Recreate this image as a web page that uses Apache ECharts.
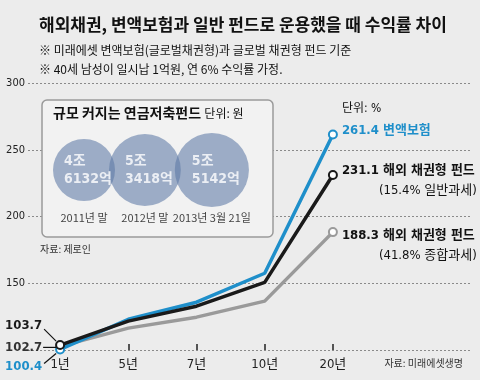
<!DOCTYPE html>
<html><head><meta charset="utf-8">
<script src="https://cdn.jsdelivr.net/npm/echarts@6/dist/echarts.min.js"></script>
<style>html,body{margin:0;padding:0;background:#ececec}#c{width:480px;height:380px}</style>
</head><body><div id="c"></div>
<script>
// ---- data ----
const categories = ['1년', '5년', '7년', '10년', '20년'];
const variableInsurance = [100.4, 123.0, 135.8, 157.5, 261.4];   // 변액보험
const bondGeneralTax = [103.7, 121.6, 132.8, 150.7, 231.1];      // 해외 채권형 펀드 (15.4% 일반과세)
const bondComprehensiveTax = [102.7, 116.4, 124.6, 136.6, 188.3]; // 해외 채권형 펀드 (41.8% 종합과세)
const yMin = 100, yMax = 300, yStep = 50;
const pensionDates = ['2011년 말', '2012년 말', '2013년 3월 21일'];
const pensionValues = [46132, 53418, 55142]; // 억원

const KR = "'Noto Sans CJK KR', sans-serif";
const NUM = "'Liberation Sans Narrow','DejaVu Sans Condensed','Noto Sans CJK KR',sans-serif";
const BLUE = '#1f8fca', BLACK = '#1a1a1a', GRAY = '#9a9a9a';

function seriesData(vals) {
  return vals.map((v, i) => (i === 0 || i === vals.length - 1)
    ? { value: v, symbol: 'emptyCircle' }
    : { value: v, symbol: 'none' });
}
function endLabel(vals, cfg) {
  const d = seriesData(vals);
  d[d.length - 1].label = Object.assign({ show: true, position: 'right', distance: 4 }, cfg);
  return d;
}
const last = a => a[a.length - 1];

// bubble layout for the inset: diameter proportional to value, bubbles packed side by side
const PX_PER_UNIT = 1 / 744;
const diam = pensionValues.map(v => v * PX_PER_UNIT);
const centers = [];
diam.forEach((d, i) => {
  centers.push(i === 0 ? 53 + d / 2 : centers[i - 1] + diam[i - 1] / 2 + d / 2 - 6);
});
const BUBBLE_Y = 70, DATE_Y = 118; // offsets inside the inset box

const chart = echarts.init(document.getElementById('c'), null, { renderer: 'canvas' });
const lineCommon = {
  type: 'line', xAxisIndex: 1, yAxisIndex: 1, symbolSize: 8,
  lineStyle: { width: 3.5 }, itemStyle: { borderWidth: 2 }, label: { show: false },
  emphasis: { disabled: true }, animation: false
};

chart.setOption({
  backgroundColor: '#ececec',
  animation: false,
  title: [
    { text: '해외채권, 변액보험과 일반 펀드로 운용했을 때 수익률 차이', left: 34, top: 11,
      textStyle: { fontFamily: KR, fontSize: 17, fontWeight: 'bold', color: '#111' } },
    { text: '※ 미래에셋 변액보험(글로벌채권형)과 글로벌 채권형 펀드 기준', left: 34, top: 39,
      textStyle: { fontFamily: KR, fontSize: 12, fontWeight: 'normal', color: '#111' } },
    { text: '※ 40세 남성이 일시납 1억원, 연 6% 수익률 가정.', left: 34, top: 58,
      textStyle: { fontFamily: KR, fontSize: 12, fontWeight: 'normal', color: '#111' } },
    { text: '자료: 미래에셋생명', right: 12, top: 353,
      textStyle: { fontFamily: KR, fontSize: 10, fontWeight: 'normal', color: '#333' } }
  ],
  grid: [
    { left: 28, right: 10, top: 83, bottom: 30 },
    { left: 26, width: 341, top: 83, bottom: 30 },
    { left: 0, width: 480, top: 100, height: 137 }
  ],
  xAxis: [
    { gridIndex: 0, type: 'value', show: false, min: 0, max: 1 },
    { gridIndex: 1, type: 'category', data: categories, boundaryGap: true,
      axisLine: { show: false },
      axisTick: { show: true, inside: true, length: 6, alignWithLabel: true, lineStyle: { color: '#222', width: 1.5 } },
      axisLabel: { fontFamily: NUM, fontSize: 13, color: '#222', margin: 8 } },
    { gridIndex: 2, type: 'value', min: 0, max: 480, show: false }
  ],
  yAxis: [
    { gridIndex: 0, type: 'value', min: yMin, max: yMax, interval: yStep,
      axisLine: { show: false }, axisTick: { show: false },
      axisLabel: { fontFamily: NUM, fontSize: 11, color: '#222', margin: 3,
        formatter: v => v === yMin ? '' : String(v) },
      splitLine: { show: true, lineStyle: { color: '#8a8a8a', width: 1, type: [2, 2] } } },
    { gridIndex: 1, type: 'value', min: yMin, max: yMax, interval: yStep, show: false, splitLine: { show: false } },
    { gridIndex: 2, type: 'value', min: 0, max: 137, inverse: true, show: false, splitLine: { show: false } }
  ],
  series: [
    { type: 'scatter', xAxisIndex: 2, yAxisIndex: 2, z: 3, animation: false, clip: false,
      data: pensionValues.map((v, i) => [centers[i], BUBBLE_Y, v]),
      symbolSize: d => d[2] * PX_PER_UNIT,
      itemStyle: { color: 'rgba(92,120,164,0.72)' },
      emphasis: { disabled: true },
      label: { show: true, position: 'inside',
        formatter: p => '{a|' + Math.floor(p.data[2] / 10000) + '조}\n{a|' + (p.data[2] % 10000) + '억}',
        rich: { a: { fontFamily: NUM, fontSize: 14, fontWeight: 'bold', color: '#fff', width: 40, align: 'left', lineHeight: 18 } } } },
    { type: 'scatter', xAxisIndex: 2, yAxisIndex: 2, z: 3, animation: false, clip: false,
      data: pensionDates.map((d, i) => ({ value: [centers[i], DATE_Y], name: d })),
      symbolSize: 1, itemStyle: { color: 'rgba(0,0,0,0)' }, emphasis: { disabled: true },
      label: { show: true, position: 'inside', formatter: p => p.name,
        fontFamily: KR, fontSize: 11, color: '#111' } },
    Object.assign({}, lineCommon, { name: '해외 채권형 펀드 (41.8% 종합과세)', color: GRAY, z: 4,
      data: endLabel(bondComprehensiveTax, { verticalAlign: 'top', offset: [0, -6],
        formatter: '{a|' + last(bondComprehensiveTax) + ' 해외 채권형 펀드}\n{b|(41.8% 종합과세)}',
        rich: { a: { fontFamily: NUM, fontSize: 13, fontWeight: 'bold', color: '#111', lineHeight: 20 },
                b: { fontFamily: NUM, fontSize: 13, color: '#111', lineHeight: 20, padding: [0, 0, 0, 37] } } }) }),
    Object.assign({}, lineCommon, { name: '변액보험', color: BLUE, z: 5,
      data: endLabel(variableInsurance, { verticalAlign: 'bottom', offset: [0, 7],
        formatter: '{u|단위: %}\n{v|' + last(variableInsurance) + ' 변액보험}',
        rich: { u: { fontFamily: NUM, fontSize: 12, color: '#111', lineHeight: 22 },
                v: { fontFamily: NUM, fontSize: 13, fontWeight: 'bold', color: BLUE, lineHeight: 22 } } }) }),
    Object.assign({}, lineCommon, { name: '해외 채권형 펀드 (15.4% 일반과세)', color: BLACK, z: 6,
      data: endLabel(bondGeneralTax, { verticalAlign: 'top', offset: [0, -14],
        formatter: '{a|' + last(bondGeneralTax) + ' 해외 채권형 펀드}\n{b|(15.4% 일반과세)}',
        rich: { a: { fontFamily: NUM, fontSize: 13, fontWeight: 'bold', color: '#111', lineHeight: 20 },
                b: { fontFamily: NUM, fontSize: 13, color: '#111', lineHeight: 20, padding: [0, 0, 0, 37] } } }) })
  ]
});

// graphics: inset box + start-value labels with leader lines (positions from the library's scales)
const graphics = [
  { id: 'box', type: 'rect', z: 1, shape: { x: 42, y: 100, width: 231, height: 137, r: 5 },
    style: { fill: '#f2f2f2', stroke: '#9a9a9a', lineWidth: 1.5 } },
  { id: 'insetTitle', type: 'text', z: 2, x: 53, y: 113,
    style: { text: '{t|규모 커지는 연금저축펀드} {u|단위: 원}', verticalAlign: 'middle',
      rich: { t: { fontFamily: KR, fontSize: 14, fontWeight: 'bold', fill: '#111' },
              u: { fontFamily: KR, fontSize: 12, fill: '#111' } } } },
  { id: 'src1', type: 'text', z: 2, x: 40, y: 249,
    style: { text: '자료: 제로인', fontFamily: KR, fontSize: 10, fill: '#333', verticalAlign: 'middle' } }
];
const starts = [
  { v: bondGeneralTax[0], color: BLACK, dy: -19, line: [-16, -16, -4, -4] },
  { v: bondComprehensiveTax[0], color: '#333', dy: 1, line: [-17, 1, -4, 1] },
  { v: variableInsurance[0], color: BLUE, dy: 17, line: [-16, 14, -4, 4] }
];
starts.forEach((s, i) => {
  const p = chart.convertToPixel({ xAxisIndex: 1, yAxisIndex: 1 }, [0, s.v]);
  graphics.push({ id: 'sl' + i, type: 'polyline', z: 100, silent: true,
    shape: { points: [[p[0] + s.line[0], p[1] + s.line[1]], [p[0] + s.line[2], p[1] + s.line[3]]] },
    style: { stroke: '#111', lineWidth: 1.2, fill: null } });
  graphics.push({ id: 'sv' + i, type: 'text', z: 100, x: p[0] - 18, y: p[1] + s.dy,
    style: { text: s.v.toFixed(1), fontFamily: NUM, fontSize: 13, fontWeight: 'bold', fill: s.color, align: 'right', verticalAlign: 'middle' } });
});
chart.setOption({ graphic: graphics });
</script></body></html>
